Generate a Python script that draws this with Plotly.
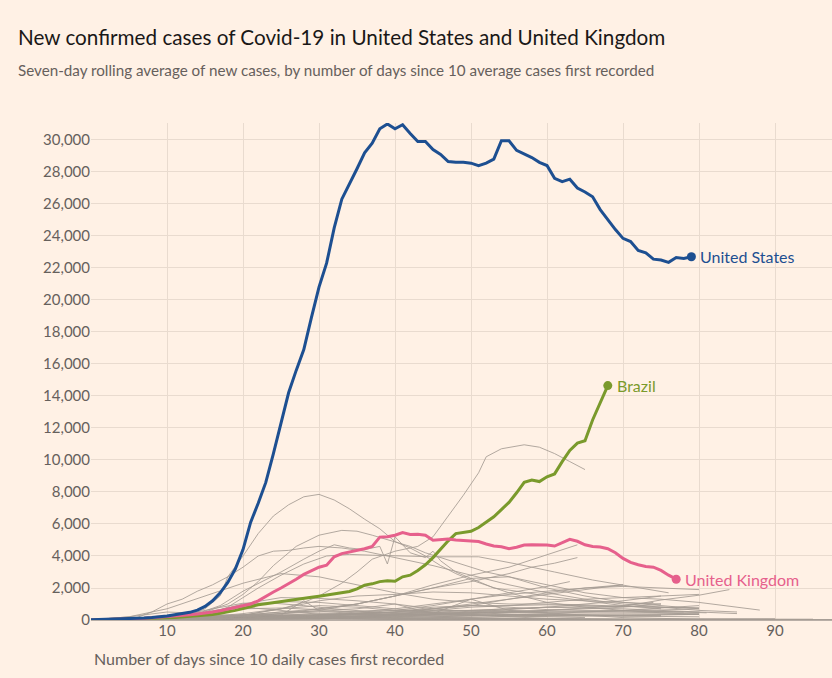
import plotly.graph_objects as go

# ---------------- data ----------------
us_cases = [20, 30, 40, 60, 70, 90, 100, 120, 150, 190, 250, 330, 400, 480, 620, 850,
            1200, 1700, 2350, 3200, 4400, 6100, 7300, 8600, 10400, 12400, 14200, 15600,
            16900, 18900, 20800, 22300, 24500, 26300, 27200, 28200, 29200, 29800, 30700,
            31000, 30700, 30950, 30400, 29900, 29900, 29400, 29100, 28650, 28600, 28600,
            28550, 28400, 28550, 28800, 29950, 29950, 29350, 29150, 28900, 28600, 28400,
            27600, 27400, 27550, 27000, 26750, 26450, 25650, 25000, 24400, 23850, 23650,
            23100, 22950, 22550, 22500, 22350, 22650, 22600, 22700]

uk_cases = [0, 10, 20, 30, 50, 70, 90, 110, 140, 170, 200, 240, 280, 330, 380, 430, 500,
            580, 680, 800, 900, 1000, 1200, 1500, 1750, 2000, 2250, 2550, 2850, 3100, 3300,
            3420, 3950, 4150, 4250, 4380, 4450, 4600, 5180, 5200, 5300, 5460, 5350, 5360,
            5300, 4980, 5020, 5060, 5000, 4980, 4960, 4900, 4750, 4620, 4580, 4450, 4550,
            4690, 4700, 4690, 4680, 4620, 4850, 5040, 4920, 4700, 4600, 4560, 4450, 4200,
            3850, 3600, 3450, 3350, 3300, 3100, 2800, 2550]

brazil_cases = [0, 10, 20, 30, 40, 50, 60, 80, 100, 120, 140, 160, 190, 220, 260, 300, 350,
                420, 500, 600, 720, 850, 950, 1020, 1080, 1150, 1220, 1290, 1350, 1420, 1490,
                1560, 1640, 1710, 1780, 1950, 2180, 2260, 2400, 2460, 2420, 2700, 2800, 3100,
                3450, 3900, 4450, 4950, 5400, 5480, 5540, 5780, 6100, 6450, 6900, 7350, 7950,
                8600, 8750, 8650, 8950, 9130, 9900, 10600, 11050, 11200, 12500, 13600, 14650]

# other countries (grey): (days, values) keypoints
other_spain = ([0, 5, 10, 13, 15, 17, 18, 20, 22, 24, 26, 28, 30, 32, 34, 36, 38, 40, 42, 44, 46, 48, 50, 55, 60, 65, 70, 75, 80],
               [0, 20, 80, 300, 700, 1500, 2700, 4000, 5400, 6500, 7200, 7700, 7850, 7500, 6950, 6300, 5700, 4900, 4500, 4000, 3400, 2900, 2500, 1700, 1100, 800, 600, 450, 350])
other_italy = ([0, 3, 6, 8, 10, 12, 14, 16, 18, 20, 22, 24, 26, 28, 30, 33, 36, 40, 45, 50, 55, 60, 65, 70, 75, 80, 85],
               [0, 30, 150, 500, 1000, 1300, 1800, 2200, 2700, 3300, 4000, 4300, 4350, 4500, 4600, 4500, 4300, 3900, 3400, 2800, 2200, 1700, 1300, 1000, 800, 600, 500])
other_russia = ([0, 10, 15, 20, 25, 28, 30, 33, 35, 37, 40, 43, 45, 47, 49, 51, 52, 54, 57, 59, 61, 63, 65],
                [0, 30, 100, 300, 700, 1100, 1500, 2300, 3000, 3800, 4300, 4600, 5200, 6500, 7800, 9200, 10200, 10700, 10950, 10800, 10400, 9900, 9400])
other_germany = ([0, 8, 12, 15, 18, 20, 22, 24, 27, 30, 33, 35, 37, 40, 42, 44, 47, 50, 52, 55, 60, 65, 70, 75, 80],
                 [0, 50, 200, 500, 1000, 1600, 2400, 3400, 4600, 5300, 5600, 5550, 5300, 4900, 4600, 4200, 3750, 3300, 3000, 2700, 2000, 1500, 1100, 900, 700])
other_france = ([0, 10, 14, 17, 20, 23, 25, 28, 30, 32, 34, 36, 38, 39, 40, 42, 44, 45, 46, 48, 50, 53, 56, 60, 65, 70, 75],
                [0, 100, 400, 900, 1800, 2500, 3000, 3800, 4300, 4700, 4500, 4400, 4600, 3500, 5200, 4200, 3900, 4300, 3700, 3000, 2600, 2000, 1800, 1500, 1200, 900, 700])
other_turkey = ([0, 10, 15, 18, 20, 22, 25, 28, 31, 34, 37, 40, 45, 51, 56, 61, 66, 71, 76],
                [0, 50, 300, 800, 1400, 2000, 2800, 3500, 4000, 4100, 4050, 4000, 3950, 3950, 3500, 3000, 2500, 2100, 1700])
other_iran = ([0, 5, 10, 15, 20, 25, 30, 35, 40, 45, 50, 55, 60, 65, 70, 75, 80, 84],
              [0, 200, 700, 1500, 2300, 2900, 2700, 2200, 1700, 1300, 1100, 1000, 1000, 950, 850, 1250, 1550, 1900])
other_india = ([0, 10, 20, 30, 35, 40, 45, 50, 55, 60, 62, 64],
               [0, 50, 200, 600, 1000, 1500, 2200, 2800, 3300, 4100, 4400, 4700])
other_peru = ([0, 15, 25, 35, 40, 45, 50, 55, 58, 61, 64],
              [0, 100, 400, 1000, 1500, 2000, 2400, 2900, 3300, 3550, 3900])
other_mexico = ([0, 20, 30, 40, 45, 50, 55, 60, 63],
                [0, 100, 250, 600, 900, 1300, 1700, 2100, 2400])
other_canada = ([0, 10, 20, 25, 30, 35, 40, 45, 50, 55, 60, 65, 70, 75],
                [0, 50, 300, 700, 1200, 1500, 1600, 1750, 1700, 1500, 1300, 1200, 1100, 1000])
other_belgium = ([0, 10, 15, 20, 25, 30, 35, 40, 45, 50, 55, 60],
                 [0, 100, 400, 1000, 1400, 1350, 1200, 1000, 700, 500, 350, 250])
other_netherlands = ([0, 10, 15, 20, 25, 30, 35, 40, 45, 50, 55, 60, 65],
                     [0, 150, 500, 900, 1150, 1100, 900, 700, 500, 350, 250, 200, 150])
other_saudi = ([0, 20, 30, 40, 45, 50, 55, 60, 65, 70, 75, 80],
               [0, 100, 300, 700, 1000, 1300, 1600, 1800, 2000, 2100, 2000, 1900])
other_pakistan = ([0, 20, 30, 40, 45, 50, 55, 60, 65, 70],
                  [0, 150, 300, 500, 700, 1000, 1300, 1700, 2000, 2200])
other_sweden = ([0, 10, 20, 30, 40, 50, 60, 70, 80],
                [0, 100, 300, 500, 600, 600, 550, 550, 500])
other_switzerland = ([0, 8, 12, 16, 20, 24, 28, 32, 36, 40, 45, 50, 55, 60, 65, 70, 75, 80],
                     [0, 50, 300, 700, 1050, 1050, 900, 700, 550, 400, 250, 150, 100, 60, 40, 30, 20, 20])
other_portugal = ([0, 10, 15, 20, 25, 30, 35, 40, 45, 50, 55, 60, 65, 70, 75],
                  [0, 100, 400, 700, 750, 650, 500, 400, 350, 300, 250, 300, 300, 250, 250])
other_ireland = ([0, 15, 20, 25, 30, 35, 40, 45, 50, 55, 60, 65, 70],
                 [0, 200, 400, 700, 900, 800, 600, 450, 300, 200, 100, 60, 40])
other_ecuador = ([0, 20, 25, 28, 30, 35, 40, 45, 50, 55, 60],
                 [0, 100, 300, 1200, 600, 700, 1000, 400, 1300, 600, 500])
other_qatar = ([0, 30, 40, 45, 50, 55, 60, 65, 70, 75, 80],
               [0, 100, 300, 600, 800, 900, 1100, 1300, 1400, 1500, 1600])
other_austria = ([0, 10, 15, 20, 25, 30, 35, 40, 50, 60, 70],
                 [0, 100, 400, 800, 600, 350, 200, 100, 50, 40, 30])
other_israel = ([0, 15, 20, 25, 30, 35, 40, 50, 60, 70],
                [0, 100, 300, 500, 550, 400, 250, 100, 30, 20])
other_japan = ([0, 20, 30, 40, 45, 50, 55, 60, 65, 70, 80, 90],
               [0, 50, 100, 200, 350, 500, 550, 450, 300, 150, 50, 30])
other_korea = ([0, 5, 10, 15, 20, 25, 30, 40, 50, 60, 70, 80, 90, 98],
               [0, 200, 500, 400, 200, 120, 100, 80, 40, 20, 15, 20, 30, 30])
other_australia = ([0, 10, 15, 20, 25, 30, 40, 50, 60, 70, 80, 90],
                   [0, 100, 250, 350, 300, 150, 40, 15, 10, 10, 10, 10])
other_philippines = ([0, 20, 30, 40, 50, 60, 70, 80],
                     [0, 150, 200, 250, 250, 250, 300, 350])
other_belarus = ([0, 30, 40, 45, 50, 55, 60, 65, 70, 75, 80],
                 [0, 200, 500, 800, 900, 900, 950, 900, 850, 800, 750])
other_bangladesh = ([0, 20, 30, 40, 45, 50, 55, 60, 65, 70],
                    [0, 100, 300, 500, 700, 900, 1300, 1600, 1900, 2200])
other_poland = ([0, 20, 30, 40, 50, 60, 70, 80],
                [0, 200, 400, 450, 400, 350, 300, 350])
other_denmark = ([0, 10, 20, 30, 40, 50, 60, 70, 80],
                 [0, 150, 200, 250, 150, 100, 60, 40, 30])
other_norway = ([0, 10, 20, 30, 40, 50],
                [0, 200, 150, 80, 30, 10])
other_uae = ([0, 20, 30, 40, 50, 60, 70, 80, 85],
             [0, 100, 300, 500, 600, 800, 700, 500, 400])
other_indonesia = ([0, 20, 30, 40, 50, 60, 70, 80],
                   [0, 200, 300, 350, 450, 500, 550, 700])
other_panama = ([0, 20, 40, 60, 80],
                [0, 150, 300, 350, 400])
other_chile = ([0, 20, 30, 35, 40, 45, 50, 55, 60, 65, 70, 75, 80, 84, 88],
               [0, 300, 700, 1000, 1500, 2000, 2600, 2700, 2200, 1700, 1400, 1300, 1100, 850, 620])
other_singapore = ([0, 30, 40, 45, 50, 55, 60, 65, 70, 75, 80, 81],
                   [0, 50, 300, 700, 900, 800, 650, 600, 600, 550, 500, 450])
other_romania = ([0, 15, 25, 35, 45, 55, 65, 75, 80],
                 [0, 150, 300, 350, 350, 300, 250, 200, 200])
other_ukraine = ([0, 20, 30, 40, 50, 60, 70, 78],
                 [0, 100, 300, 450, 500, 450, 450, 500])
other_colombia = ([0, 20, 30, 40, 50, 60, 70, 75],
                  [0, 100, 200, 300, 450, 600, 800, 1000])
other_egypt = ([0, 20, 30, 40, 50, 60, 70, 74],
               [0, 80, 150, 250, 400, 600, 900, 1100])
other_dominican = ([0, 15, 25, 35, 45, 55, 65, 75],
                   [0, 150, 300, 350, 300, 250, 250, 300])
other_argentina = ([0, 20, 30, 40, 50, 60, 70, 80],
                   [0, 80, 100, 150, 250, 400, 600, 900])
other_southafrica = ([0, 20, 30, 40, 50, 60, 70, 75],
                     [0, 100, 150, 300, 500, 800, 1200, 1500])
other_kuwait = ([0, 30, 40, 50, 60, 70, 80],
                [0, 150, 350, 600, 800, 850, 750])
other_czech = ([0, 10, 20, 30, 40, 50, 60, 70, 80, 90],
               [0, 150, 250, 200, 100, 60, 50, 50, 70, 80])
other_serbia = ([0, 15, 25, 35, 45, 55, 65, 75, 85, 95],
                [0, 200, 300, 250, 150, 90, 60, 60, 50, 50])

others = [other_spain, other_italy, other_russia, other_germany, other_france, other_turkey,
          other_iran, other_india, other_peru, other_mexico, other_canada, other_belgium,
          other_netherlands, other_saudi, other_pakistan, other_sweden, other_switzerland,
          other_portugal, other_ireland, other_ecuador, other_qatar, other_austria,
          other_israel, other_japan, other_korea, other_australia, other_philippines,
          other_belarus, other_bangladesh, other_poland, other_denmark, other_norway,
          other_uae, other_indonesia, other_panama, other_chile, other_singapore,
          other_romania, other_ukraine, other_colombia, other_egypt, other_dominican,
          other_argentina, other_southafrica, other_kuwait, other_czech, other_serbia]

x_ticks = [10, 20, 30, 40, 50, 60, 70, 80, 90]
y_ticks = list(range(0, 30001, 2000))

# ---------------- styling ----------------
BG = "#fff1e5"
GRID = "#e9dbcf"
TXT = "#66605c"
FONT = "Lato"
US_C = "#1d4f91"
UK_C = "#e6608c"
BR_C = "#7a9a2c"

fig = go.Figure()

for days, vals in others:
    fig.add_trace(go.Scatter(x=days, y=vals, mode="lines",
                             line=dict(color="rgba(165,155,147,0.85)", width=1),
                             hoverinfo="skip", showlegend=False))

series = [("Brazil", brazil_cases, BR_C), ("United Kingdom", uk_cases, UK_C),
          ("United States", us_cases, US_C)]
for name, vals, col in series:
    days = list(range(len(vals)))
    fig.add_trace(go.Scatter(x=days, y=vals, mode="lines", name=name,
                             line=dict(color=col, width=3), showlegend=False))
    fig.add_trace(go.Scatter(x=[days[-1]], y=[vals[-1]], mode="markers",
                             marker=dict(color=col, size=9), showlegend=False,
                             cliponaxis=False))
    fig.add_annotation(x=days[-1], y=vals[-1], text=name, showarrow=False,
                       xanchor="left", yanchor="middle", xshift=7,
                       font=dict(family=FONT, size=16, color=col))

fig.add_annotation(xref="paper", yref="paper", x=-0.101, y=1.173,
                   text="New confirmed cases of Covid-19 in United States and United Kingdom",
                   showarrow=False, xanchor="left", yanchor="middle",
                   font=dict(family=FONT, size=20.7, color="#1a1817"))
fig.add_annotation(xref="paper", yref="paper", x=-0.101, y=1.107,
                   text="Seven-day rolling average of new cases, by number of days since 10 average cases first recorded",
                   showarrow=False, xanchor="left", yanchor="middle",
                   font=dict(family=FONT, size=15.2, color=TXT))
fig.add_annotation(xref="paper", yref="paper", x=0.002, y=0, yshift=-38,
                   text="Number of days since 10 daily cases first recorded",
                   showarrow=False, xanchor="left", yanchor="middle",
                   font=dict(family=FONT, size=16, color=TXT))

fig.update_layout(
    width=832, height=678,
    paper_bgcolor=BG, plot_bgcolor=BG,
    margin=dict(l=91, r=0, t=123, b=58),
    font=dict(family=FONT, size=15, color=TXT),
    xaxis=dict(range=[0, 97.5], tickvals=x_ticks, showgrid=True, gridcolor=GRID,
               gridwidth=1, zeroline=False, showline=False, ticks="",
               tickfont=dict(family=FONT, size=15, color=TXT)),
    yaxis=dict(range=[0, 31060], tickvals=y_ticks, tickformat=",", showgrid=True,
               gridcolor=GRID, gridwidth=1, zeroline=True, zerolinecolor="#b8aea6",
               zerolinewidth=2, showline=False, ticks="",
               tickfont=dict(family=FONT, size=15, color=TXT)),
)

fig.write_html("out.html", config={"displayModeBar": False},
               post_script="document.body.style.margin='0';document.body.style.background='#fff1e5';")
